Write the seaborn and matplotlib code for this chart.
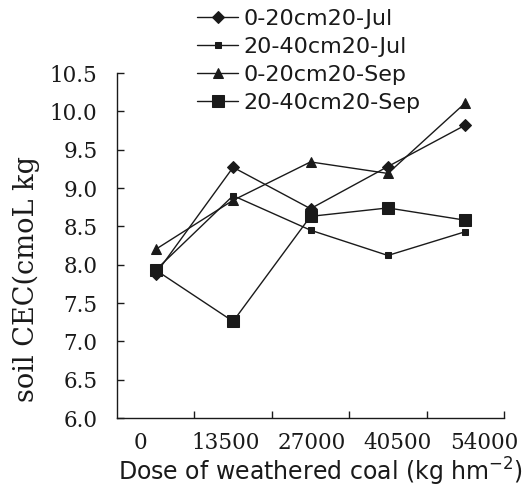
import matplotlib
matplotlib.use("Agg")
import matplotlib.pyplot as plt
import matplotlib.transforms as mtransforms
import seaborn as sns
import numpy as np
import pandas as pd

doses = ["0", "13500", "27000", "40500", "54000"]
jul_0_20 = [7.88, 9.27, 8.73, 9.28, 9.82]
jul_20_40 = [7.93, 8.90, 8.45, 8.12, 8.43]
sep_0_20 = [8.20, 8.84, 9.34, 9.19, 10.11]
sep_20_40 = [7.93, 7.26, 8.63, 8.74, 8.58]
series_names = ["0-20cm20-Jul", "20-40cm20-Jul", "0-20cm20-Sep", "20-40cm20-Sep"]
y_ticks = [6.0, 6.5, 7.0, 7.5, 8.0, 8.5, 9.0, 9.5, 10.0, 10.5]

sns.set_theme(style="white")
plt.rcParams["font.family"] = ["DejaVu Sans"]
SERIF = ["DejaVu Serif"]
INK = "#1a1a1a"

fig = plt.figure(figsize=(5.28, 4.91), dpi=100)
ax = fig.add_axes([117/528, 1-418/491, (504-117)/528, (418-73)/491])

idx = np.arange(len(doses))
styles = [("D", 6.0), ("s", 5.0), ("^", 7.0), ("s", 8.5)]
for name, vals, (mk, ms) in zip(series_names, [jul_0_20, jul_20_40, sep_0_20, sep_20_40], styles):
    df = pd.DataFrame({"x": idx, "y": vals})
    sns.lineplot(data=df, x="x", y="y", ax=ax, color=INK, linewidth=1.0,
                 marker=mk, markersize=ms, markeredgecolor=INK,
                 markerfacecolor=INK, label=name)

ax.set_xlim(-0.5, len(doses) - 0.5)
ax.set_ylim(6.0, 10.5)
ax.set_yticks(y_ticks)
ax.set_yticklabels([f"{v:.1f}" for v in y_ticks], family=SERIF, fontsize=15.5)
ax.set_xticks(idx)
ax.set_xticklabels(doses, family=SERIF, fontsize=15.5)
ax.set_xticks(idx + 0.5, minor=True)
ax.tick_params(axis="x", which="major", length=0, pad=10, colors=INK)
ax.tick_params(axis="x", which="minor", length=5, direction="in", width=1, color=INK, bottom=True)
ax.tick_params(axis="y", which="major", length=5, direction="in", width=1, pad=14, colors=INK, left=True)
# tick labels in the reference are spread a little wider than the categories
center = (len(doses) - 1) / 2
for i, lab in enumerate(ax.get_xticklabels()):
    dx = (8.5 * (i - center) + 1.5) / 100
    lab.set_transform(lab.get_transform() + mtransforms.ScaledTranslation(dx, 0, fig.dpi_scale_trans))

for s in ["top", "right"]:
    ax.spines[s].set_visible(False)
for s in ["left", "bottom"]:
    ax.spines[s].set_color(INK)
    ax.spines[s].set_linewidth(1.0)

ax.set_xlabel("")
ax.set_ylabel("")
fig.text(320/528, 1-472/491, "Dose of weathered coal (kg hm$^{-2}$)", ha="center", va="center",
         fontsize=17, color=INK)
fig.text(26/528, 1-279/491, "soil CEC(cmoL kg", rotation=90, ha="center", va="center",
         fontsize=19.5, family=SERIF, color=INK)

leg = ax.legend(loc="upper left", bbox_to_anchor=(197/528, 1-9/491), bbox_transform=fig.transFigure,
                frameon=False, fontsize=16, handlelength=1.85, handletextpad=0.25,
                labelspacing=0.36, borderpad=0, borderaxespad=0)
for t in leg.get_texts():
    t.set_color(INK)

fig.savefig("out.png", dpi=100)
